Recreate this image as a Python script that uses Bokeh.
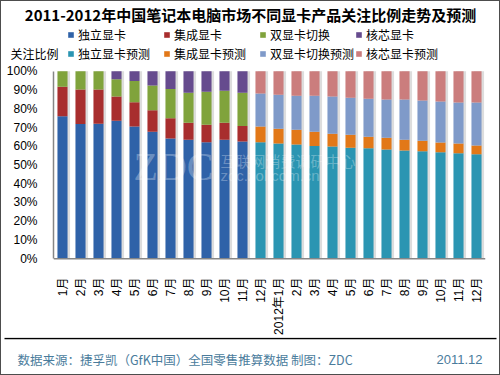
import math
from bokeh.plotting import figure
from bokeh.layouts import column
from bokeh.models import (ColumnDataSource, Range1d, FixedTicker, PrintfTickFormatter,
                          Legend, LegendItem, Label, Span)
from bokeh.transform import dodge
from bokeh.core.properties import value
from bokeh.embed import file_html
from bokeh.resources import INLINE

# ---------------- data ----------------
month_labels = ["1月", "2月", "3月", "4月", "5月", "6月", "7月", "8月", "9月", "10月", "11月", "12月",
                "2012年1月", "2月", "3月", "4月", "5月", "6月", "7月", "8月", "9月", "10月", "11月", "12月"]

discrete = [76.0, 71.9, 72.0, 73.6, 70.5, 67.7, 64.2, 63.5, 62.2, 63.5, 62.5, 0,
            0, 0, 0, 0, 0, 0, 0, 0, 0, 0, 0, 0]
integrated = [15.7, 18.4, 18.3, 12.9, 13.0, 11.5, 10.8, 9.1, 9.3, 9.1, 8.3, 0,
              0, 0, 0, 0, 0, 0, 0, 0, 0, 0, 0, 0]
switchable = [8.3, 9.7, 9.7, 9.3, 11.3, 13.2, 15.6, 15.9, 17.6, 17.0, 17.7, 0,
              0, 0, 0, 0, 0, 0, 0, 0, 0, 0, 0, 0]
core = [0, 0, 0, 4.2, 5.2, 7.6, 9.4, 11.5, 10.9, 10.4, 11.5, 0,
        0, 0, 0, 0, 0, 0, 0, 0, 0, 0, 0, 0]
discrete_fc = [0, 0, 0, 0, 0, 0, 0, 0, 0, 0, 0, 62.2,
               61.5, 60.9, 60.2, 59.9, 59.2, 58.9, 58.3, 57.8, 57.3, 56.8, 56.3, 55.7]
integrated_fc = [0, 0, 0, 0, 0, 0, 0, 0, 0, 0, 0, 8.3,
                 7.8, 7.9, 7.5, 6.8, 6.9, 6.2, 6.3, 5.7, 5.7, 5.2, 5.2, 4.7]
switchable_fc = [0, 0, 0, 0, 0, 0, 0, 0, 0, 0, 0, 17.7,
                 18.2, 18.2, 19.3, 19.8, 19.8, 20.3, 20.3, 21.4, 21.4, 21.9, 21.8, 22.9]
core_fc = [0, 0, 0, 0, 0, 0, 0, 0, 0, 0, 0, 11.8,
           12.5, 13.0, 13.0, 13.5, 14.1, 14.6, 15.1, 15.1, 15.6, 16.1, 16.7, 16.7]

series_names = ["独立显卡", "集成显卡", "双显卡切换", "核芯显卡",
                "独立显卡预测", "集成显卡预测", "双显卡切换预测", "核芯显卡预测"]
y_ticks = [0, 10, 20, 30, 40, 50, 60, 70, 80, 90, 100]

title_text = "2011-2012年中国笔记本电脑市场不同显卡产品关注比例走势及预测"
y_title = "关注比例"
source_text = "数据来源：捷孚凯（GfK中国）全国零售推算数据 制图：ZDC"
date_text = "2011.12"

# ---------------- styling ----------------
colors = ["#2f62a8", "#a82e2e", "#80a33c", "#664b8e",
          "#2b95b2", "#e27818", "#7f9ac9", "#cb7d7d"]
CJK = "Noto Sans CJK SC"
LAT = "Liberation Sans, Noto Sans CJK SC"
FOOT_COLOR = "#4a7c9c"
AXIS_COLOR = "#868686"
W = 498  # inner width (1px CSS border on each side)
PAD = 8 / 1.92  # 8px of headroom above 100% and below 0%

xs = list(range(len(month_labels)))
keys = ["s%d" % i for i in range(8)]
data = dict(x=xs)
for k, arr in zip(keys, [discrete, integrated, switchable, core,
                         discrete_fc, integrated_fc, switchable_fc, core_fc]):
    data[k] = arr
data["total"] = [sum(v) for v in zip(discrete, integrated, switchable, core,
                                     discrete_fc, integrated_fc, switchable_fc, core_fc)]
src = ColumnDataSource(data)


def blank(h, y_top):
    f = figure(width=W, height=h, output_backend="svg", toolbar_location=None,
               x_range=Range1d(0, W), y_range=Range1d(y_top, 0),
               x_axis_type=None, y_axis_type=None, frame_align=False,
               min_border=0, min_border_left=0, min_border_right=0,
               min_border_top=0, min_border_bottom=0)
    f.outline_line_color = None
    f.background_fill_color = "white"
    f.border_fill_color = "white"
    return f

# ---------------- header: title + legend ----------------
head = blank(62, 62)
head.text(x=[249], y=[13], text=[title_text], text_font=value(CJK), text_font_size="15px",
          text_font_style="bold", text_color="#000000", text_align="center",
          text_baseline="middle")
head.text(x=[9], y=[52], text=[y_title], text_font=value(CJK), text_font_size="12px",
          text_color="#000000", text_align="left", text_baseline="middle")
offscreen = ColumnDataSource(dict(x=[-100], top=[0]))
dummies = [head.vbar(x="x", top="top", bottom=0, width=1, source=offscreen,
                     fill_color=c, line_color=None)
           for c in colors]
legend = Legend(items=[LegendItem(label=n, renderers=[r]) for n, r in zip(series_names, dummies)],
                orientation="horizontal", ncols=4, location=(66, 1),
                padding=0, margin=0, spacing=1, label_width=84, label_height=18,
                glyph_width=7, glyph_height=7, label_standoff=4,
                label_text_font=CJK, label_text_font_size="12px", label_text_color="#000000",
                background_fill_alpha=0, border_line_color=None)
head.add_layout(legend, "center")

# ---------------- main chart ----------------
p = figure(width=W, height=274, output_backend="svg", toolbar_location=None,
           x_range=Range1d(-0.5, len(xs) - 0.5), y_range=Range1d(-PAD, 100 + PAD),
           frame_align=False,
           min_border_left=52, min_border_right=14, min_border_top=0, min_border_bottom=66)
p.outline_line_color = None
p.xgrid.visible = False
p.ygrid.visible = False
p.background_fill_color = "white"
p.border_fill_color = "white"

# bar shadows
p.vbar(x=dodge("x", 0.14), top="total", bottom=0, width=0.56, source=src,
       fill_color="#cfcfcf", fill_alpha=0.7, line_color=None)
p.vbar_stack(keys, x="x", width=0.56, source=src, color=colors, line_color=None)

# x axis baseline at 0%
p.add_layout(Span(location=0, dimension="width", line_color=AXIS_COLOR, line_width=1.5))

p.yaxis.ticker = FixedTicker(ticks=y_ticks)
p.yaxis.formatter = PrintfTickFormatter(format="%d%%")
p.yaxis.bounds = (0, 100)
p.xaxis.ticker = FixedTicker(ticks=xs)
p.xaxis.major_label_overrides = {i: lab for i, lab in enumerate(month_labels)}
p.xaxis.major_label_orientation = math.pi / 2
for ax in (p.xaxis, p.yaxis):
    ax.axis_line_color = AXIS_COLOR
    ax.axis_line_width = 1.5
    ax.major_tick_line_color = None
    ax.minor_tick_line_color = None
    ax.major_label_text_font = LAT
    ax.major_label_text_font_size = "12px"
    ax.major_label_text_color = "#000000"
p.xaxis.axis_line_color = None
p.yaxis.major_label_standoff = 10
p.xaxis.major_label_standoff = 5


def X(px):
    return (px - 53) / 18.0 - 0.5


def Y(py):
    return (263 - py) / 1.92

# watermark
p.add_layout(Label(x=X(133), y=Y(169), text="ZDC", text_font="Liberation Serif",
                   text_font_size="40px", text_color="white", text_alpha=0.3,
                   text_baseline="middle", text_align="left"))
p.add_layout(Label(x=X(220), y=Y(162), text="互联网消费调研中心", text_font=CJK,
                   text_font_size="15px", text_color="white", text_alpha=0.3,
                   text_baseline="middle", text_align="left"))
p.add_layout(Label(x=X(220), y=Y(178), text="zdc.zol.com.cn", text_font="Liberation Sans",
                   text_font_size="15px", text_color="white", text_alpha=0.3,
                   text_baseline="middle", text_align="left"))

# ---------------- footer ----------------
foot = blank(37, 37)
foot.segment(x0=[3], y0=[1], x1=[495], y1=[1], line_color="#000000", line_width=1.5)
foot.text(x=[16], y=[22], text=[source_text], text_font=value(CJK), text_font_size="12.5px",
          text_color=FOOT_COLOR, text_align="left", text_baseline="middle")
foot.text(x=[481], y=[22], text=[date_text], text_font=value("Liberation Sans"),
          text_font_size="13px", text_color=FOOT_COLOR, text_align="right",
          text_baseline="middle")

layout = column(head, p, foot, spacing=0,
                styles={"border": "1px solid #4d4d4d", "background-color": "white"})

open("out.html", "w").write(file_html(layout, INLINE))
